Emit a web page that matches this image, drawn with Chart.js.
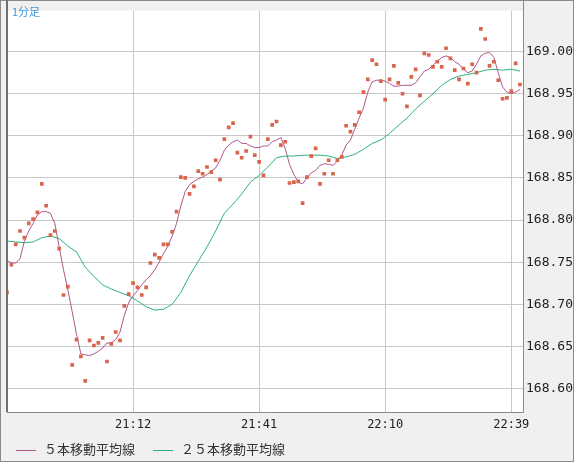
<!DOCTYPE html>
<html>
<head>
<meta charset="utf-8">
<script src="https://cdn.jsdelivr.net/npm/chart.js@4.4.1/dist/chart.umd.min.js"></script>
<style>
  body { margin: 0; background: #f0f0f0; }
  #wrap { position: relative; width: 574px; height: 462px; }
  #title { position: absolute; left: 12px; top: 3px; font: 11px "Noto Sans CJK JP", sans-serif; color: #3a9ad9; }
  #legend { position: absolute; left: 16px; top: 439px; font: 13px "Noto Sans CJK JP", sans-serif; color: #333; }
  #legend span.sw { display: inline-block; width: 20px; height: 1px; vertical-align: middle; margin-right: 8px; }
</style>
</head>
<body>
<div id="wrap">
  <canvas id="chart" width="574" height="462"></canvas>
  <div id="title">1分足</div>
  <div id="legend"><span class="sw" style="background:#b0578a"></span>５本移動平均線<span class="sw" style="background:#2db37a;margin-left:18px"></span>２５本移動平均線</div>
</div>
<script>
// minutes 20:43 .. 22:41
const times = [];
for (let m = 20 * 60 + 43; m <= 22 * 60 + 41; m++) {
    times.push(Math.floor(m / 60) + ":" + String(m % 60).padStart(2, "0"));
}
const tickIndex = [29, 58, 87, 116];

const closes = [
    168.714, 168.747, 168.771, 168.787, 168.779, 168.796, 168.801, 168.809, 168.843, 168.817,
    168.782, 168.787, 168.766, 168.711, 168.721, 168.628, 168.658, 168.638, 168.609, 168.657,
    168.651, 168.654, 168.660, 168.632, 168.653, 168.667, 168.657, 168.698, 168.712, 168.725,
    168.720, 168.711, 168.720, 168.749, 168.759, 168.755, 168.771, 168.771, 168.786, 168.810,
    168.851, 168.850, 168.831, 168.840, 168.858, 168.855, 168.863, 168.857, 168.871, 168.848,
    168.896, 168.910, 168.915, 168.880, 168.874, 168.882, 168.899, 168.877, 168.869, 168.853,
    168.896, 168.913, 168.917, 168.889, 168.893, 168.844, 168.845, 168.846, 168.820, 168.851,
    168.876, 168.885, 168.843, 168.855, 168.871, 168.855, 168.871, 168.875, 168.912, 168.905,
    168.913, 168.928, 168.952, 168.967, 168.990, 168.985, 168.965, 168.943, 168.967, 168.983,
    168.963, 168.950, 168.935, 168.970, 168.979, 168.948, 168.998, 168.996, 168.982, 168.988,
    168.982, 169.004, 168.992, 168.978, 168.967, 168.980, 168.962, 168.985, 168.975, 169.027,
    169.015, 168.983, 168.988, 168.966, 168.944, 168.945, 168.953, 168.986, 168.961
];

const ma5 = [
    168.752, 168.749, 168.749, 168.754, 168.775, 168.787, 168.796, 168.806, 168.810, 168.810,
    168.808, 168.796, 168.768, 168.741, 168.717, 168.691, 168.664, 168.641, 168.640, 168.639,
    168.641, 168.644, 168.648, 168.654, 168.654, 168.658, 168.667, 168.687, 168.702, 168.710,
    168.716, 168.723, 168.729, 168.734, 168.741, 168.750, 168.760, 168.769, 168.781, 168.796,
    168.817, 168.834, 168.842, 168.846, 168.849, 168.851, 168.854, 168.858, 168.862, 168.871,
    168.883, 168.889, 168.893, 168.895, 168.891, 168.891, 168.888, 168.886, 168.886, 168.888,
    168.888, 168.893, 168.895, 168.898, 168.885, 168.866, 168.854, 168.845, 168.843, 168.850,
    168.856, 168.859, 168.865, 168.867, 168.866, 168.865, 168.870, 168.877, 168.889, 168.895,
    168.908, 168.921, 168.933, 168.952, 168.964, 168.966, 168.966, 168.965, 168.962, 168.959,
    168.959, 168.960, 168.960, 168.960, 168.963, 168.970, 168.977, 168.979, 168.984, 168.989,
    168.993, 168.995, 168.993, 168.988, 168.985, 168.979, 168.975, 168.977, 168.985, 168.995,
    168.998, 168.999, 168.993, 168.975, 168.958, 168.952, 168.950, 168.952, 168.955
];

// 25本移動平均線, read every second minute (index 0, 2, 4, ...)
const ma25 = [
    168.775, 168.774, 168.773, 168.774, 168.779, 168.781, 168.778, 168.769, 168.762, 168.744,
    168.733, 168.723, 168.718, 168.714, 168.710, 168.704, 168.697, 168.693, 168.694, 168.700,
    168.714, 168.734, 168.751, 168.768, 168.787, 168.808, 168.819, 168.831, 168.845, 168.853,
    168.863, 168.874, 168.876, 168.876, 168.877, 168.877, 168.877, 168.876, 168.873, 168.875,
    168.878, 168.884, 168.891, 168.895, 168.903, 168.912, 168.921, 168.932, 168.941, 168.950,
    168.960, 168.967, 168.971, 168.973, 168.975, 168.978, 168.979, 168.978, 168.979, 168.977
];

const yTicks = [168.60, 168.65, 168.70, 168.75, 168.80, 168.85, 168.90, 168.95, 169.00];

const plotFrame = {
    id: "plotFrame",
    beforeDraw(c) {
        const a = c.chartArea, ctx = c.ctx;
        ctx.save();
        ctx.fillStyle = "#ffffff";
        ctx.fillRect(a.left, a.top, a.right - a.left, a.bottom - a.top);
        ctx.restore();
    },
    afterDraw(c) {
        const a = c.chartArea, ctx = c.ctx;
        ctx.save();
        ctx.strokeStyle = "#8a8a8a";
        ctx.lineWidth = 1;
        ctx.beginPath();
        ctx.moveTo(a.left, a.bottom + 0.5);
        ctx.lineTo(a.right + 0.5, a.bottom + 0.5);
        ctx.lineTo(a.right + 0.5, 0);
        ctx.stroke();
        ctx.strokeRect(0.5, 0.5, c.width - 1, c.height - 1);
        ctx.strokeStyle = "#707070";
        ctx.lineWidth = 2;
        ctx.beginPath();
        ctx.moveTo(a.left, 0);
        ctx.lineTo(a.left, a.bottom);
        ctx.stroke();
        ctx.restore();
    }
};

new Chart(document.getElementById("chart"), {
    type: "line",
    data: {
        datasets: [{
            type: "scatter",
            data: closes.map((v, i) => ({ x: i, y: v })),
            backgroundColor: "#d9654e",
            borderWidth: 0,
            pointStyle: "rect",
            pointRadius: 2.6,
            order: 0
        }, {
            data: ma5.map((v, i) => ({ x: i, y: v })),
            borderColor: "#b0578a",
            borderWidth: 1,
            pointRadius: 0,
            order: 1
        }, {
            data: ma25.map((v, i) => ({ x: i * 2, y: v })),
            borderColor: "#2db37a",
            borderWidth: 1,
            pointRadius: 0,
            order: 2
        }]
    },
    options: {
        responsive: false,
        animation: false,
        layout: { padding: { left: 7, top: 0 } },
        plugins: { legend: { display: false }, tooltip: { enabled: false } },
        scales: {
            x: {
                type: "linear",
                min: 0,
                max: 118.7,
                afterBuildTicks: s => { s.ticks = tickIndex.map(v => ({ value: v })); },
                afterFit: s => { s.height = 50; },
                ticks: {
                    callback: v => times[v],
                    maxRotation: 0,
                    autoSkip: false,
                    padding: 6,
                    color: "#222",
                    font: { family: "DejaVu Sans Mono", size: 12 }
                },
                grid: { color: "#c8c8c8", drawTicks: false },
                border: { display: false }
            },
            y: {
                position: "right",
                min: 168.572,
                max: 169.0485,
                afterBuildTicks: s => { s.ticks = yTicks.map(v => ({ value: v })); },
                afterFit: s => { s.width = 51; },
                ticks: {
                    callback: v => v.toFixed(2),
                    padding: 3,
                    color: "#222",
                    font: { family: "DejaVu Sans Mono", size: 13 }
                },
                grid: { color: "#c8c8c8", drawTicks: false },
                border: { display: false }
            }
        }
    },
    plugins: [plotFrame]
});
</script>
</body>
</html>
